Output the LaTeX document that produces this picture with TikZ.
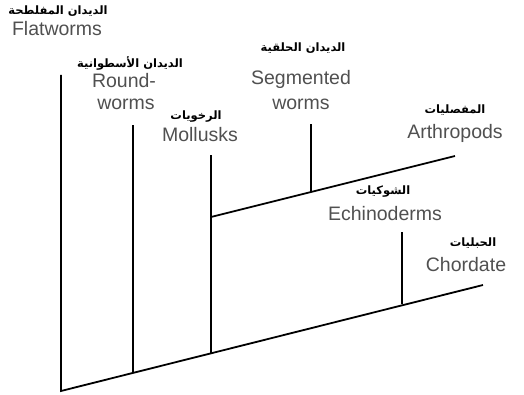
\documentclass[tikz,border=0pt]{standalone}
\usepackage{fontspec}
\setmainfont{Liberation Sans}
\newfontfamily\arabicfont[Script=Arabic]{DejaVu Sans}
\TeXXeTstate=1
\definecolor{labelgray}{HTML}{505050}
\tikzset{
  en/.style={font=\fontsize{19.5}{20}\selectfont, text=labelgray, inner sep=0pt},
  ar/.style={font=\arabicfont\bfseries\fontsize{11.5}{12}\selectfont, text=black, inner sep=0pt},
  branch/.style={line width=1.8pt, black, line cap=butt}
}
\begin{document}
\begin{tikzpicture}[x=1pt,y=-1pt]
\useasboundingbox (0,0) rectangle (524,395);
% labels
\node[ar] (arflat) at (58,11) {\beginR الديدان المفلطحة\endR};
\node[en] (flat) at (57,29) {Flatworms};
\node[ar] (arround) at (130,63) {\beginR الديدان الأسطوانية\endR};
\node[en] (round1) at (124,81) {Round-};
\node[en] (round2) at (126,104) {worms};
\node[ar] (armoll) at (196,117) {\beginR الرخويات\endR};
\node[en] (moll) at (200,135) {Mollusks};
\node[ar] (arseg) at (303,48) {\beginR الديدان الحلقية\endR};
\node[en] (seg1) at (301,79) {Segmented};
\node[en] (seg2) at (301,104) {worms};
\node[ar] (arart) at (455,110) {\beginR المفصليات\endR};
\node[en] (art) at (455,133) {Arthropods};
\node[ar] (arech) at (383,192) {\beginR الشوكيات\endR};
\node[en] (ech) at (385,214) {Echinoderms};
\node[ar] (archo) at (473,243) {\beginR الحبليات\endR};
\node[en] (cho) at (466,265) {Chordate};
% tree points
\coordinate (root) at (61,391);
\coordinate (tipflat) at (61,75);
\coordinate (nround) at (133,373);
\coordinate (tipround) at (133,125);
\coordinate (nmoll) at (211,354);
\coordinate (tipmoll) at (211,155);
\coordinate (nsub) at (211,217);
\coordinate (nseg) at (311,192);
\coordinate (tipseg) at (311,124);
\coordinate (tipart) at (455,156);
\coordinate (nech) at (402,304);
\coordinate (tipech) at (402,232);
\coordinate (tipcho) at (483,285);
% branches
\draw[branch] (tipflat) -- (root) -- (tipcho);
\draw[branch] (nround) -- (tipround);
\draw[branch] (nmoll) -- (tipmoll);
\draw[branch] (nsub) -- (tipart);
\draw[branch] (nseg) -- (tipseg);
\draw[branch] (nech) -- (tipech);
\end{tikzpicture}
\end{document}
